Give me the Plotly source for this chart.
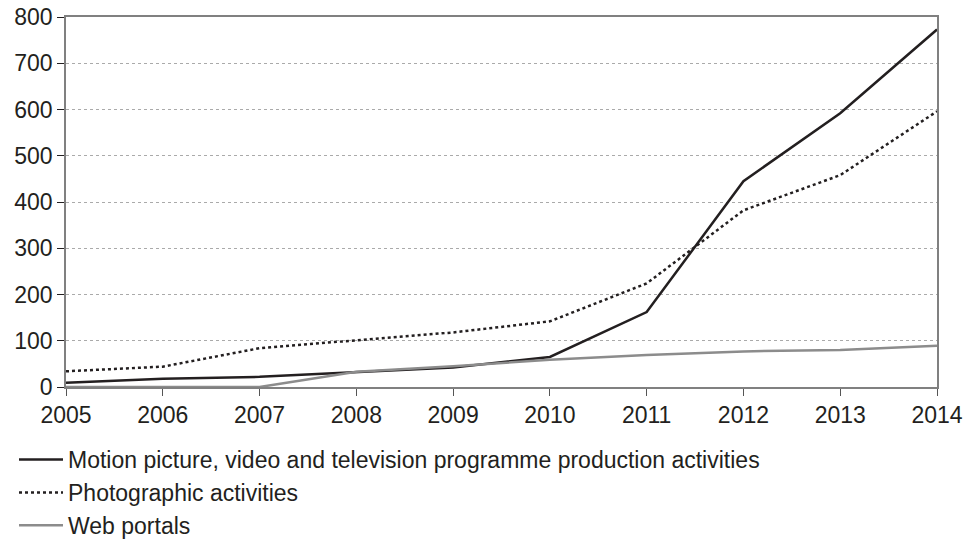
import plotly.graph_objects as go

years = [2005, 2006, 2007, 2008, 2009, 2010, 2011, 2012, 2013, 2014]
motion_picture = [9, 18, 22, 32, 42, 65, 162, 445, 592, 773]
photographic = [34, 44, 84, 101, 118, 142, 224, 382, 458, 596]
web_portals = [0, 0, 0, 33, 45, 59, 69, 77, 80, 89]

names = [
    "Motion picture, video and television programme production activities",
    "Photographic activities",
    "Web portals",
]

fig = go.Figure()
fig.add_trace(go.Scatter(x=years, y=motion_picture, mode="lines", name=names[0],
                         line=dict(color="#231f20", width=2.5)))
fig.add_trace(go.Scatter(x=years, y=photographic, mode="lines", name=names[1],
                         line=dict(color="#231f20", width=2.5, dash="dot")))
fig.add_trace(go.Scatter(x=years, y=web_portals, mode="lines", name=names[2],
                         line=dict(color="#8c8c8c", width=2.5)))

font_family = "Liberation Sans, Arial, sans-serif"
fig.update_layout(
    width=965, height=539,
    margin=dict(l=66, r=28, t=17, b=152, autoexpand=False),
    plot_bgcolor="white", paper_bgcolor="white",
    font=dict(family=font_family, size=23, color="#231f20"),
    showlegend=True,
    legend=dict(x=-0.0597, y=-0.138, xanchor="left", yanchor="top",
                orientation="v", font=dict(size=23, color="#231f20"),
                tracegroupgap=0, itemwidth=44, bgcolor="rgba(0,0,0,0)"),
)
fig.update_xaxes(range=[2005, 2014], tickvals=years, ticktext=[str(y) for y in years],
                 showgrid=False, showline=True, mirror=True, linecolor="#808080", linewidth=1.5,
                 ticks="outside", ticklen=7, tickcolor="#555", tickwidth=1, zeroline=False,
                 tickfont=dict(size=23), automargin=False, ticklabeloverflow="allow")
fig.update_yaxes(range=[0, 800], dtick=100, showgrid=True, gridcolor="#aaa", griddash="dot",
                 gridwidth=1, showline=True, mirror=True, linecolor="#808080", linewidth=1.5,
                 ticks="outside", ticklen=7, tickcolor="#231f20", tickwidth=1, zeroline=False,
                 tickfont=dict(size=23), automargin=False, ticklabeloverflow="allow")

fig.write_html("out.html",
               config={"displayModeBar": False},
               post_script="document.body.style.margin='0';document.body.style.overflow='hidden';")
